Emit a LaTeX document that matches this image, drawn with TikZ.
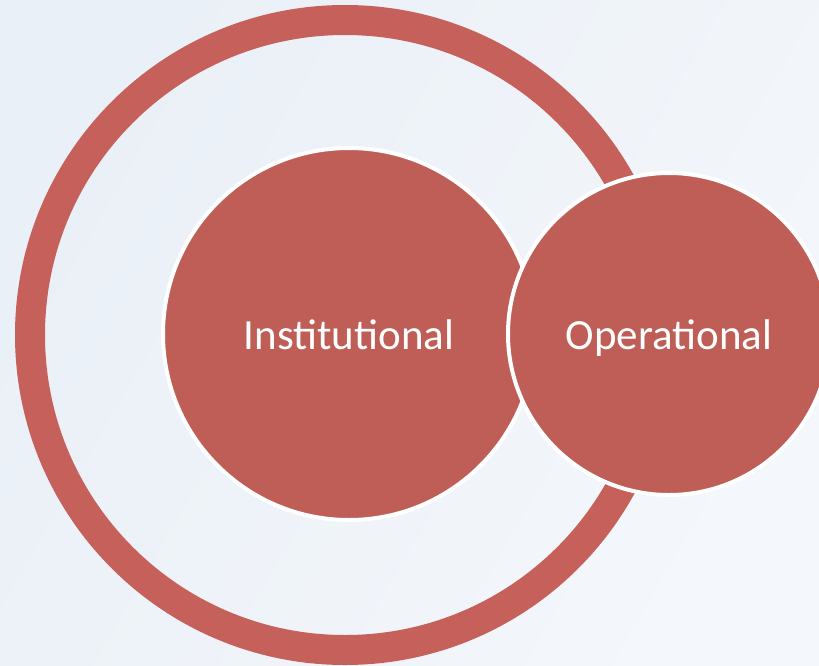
\documentclass[tikz,border=0pt]{standalone}
\usepackage{fontspec}
\setmainfont{Carlito}
\definecolor{ringred}{RGB}{197,96,90}
\definecolor{discred}{RGB}{191,94,86}
\definecolor{bgA}{RGB}{234,240,247}
\definecolor{bgB}{RGB}{244,247,251}
\begin{document}
\begin{tikzpicture}[x=1pt,y=-1pt,
  disc/.style={circle,fill=discred,draw=white,line width=4pt,inner sep=0pt,
    text=white,font=\fontsize{43}{48}\selectfont,text height=30pt,text depth=0pt},
  ringstyle/.style={draw=ringred,line width=30pt}]
\shade[left color=bgA,right color=bgB,shading angle=60] (0,0) rectangle (819,665);
\useasboundingbox (0,0) rectangle (819,665);
\coordinate (rc) at (345,335);
\draw[ringstyle] (rc) circle[radius=315];
\node[disc,minimum size=372pt] (inst) at (349,334) {Institutional};
\node[disc,minimum size=322pt] (oper) at (669,334) {Operational};
\end{tikzpicture}
\end{document}
